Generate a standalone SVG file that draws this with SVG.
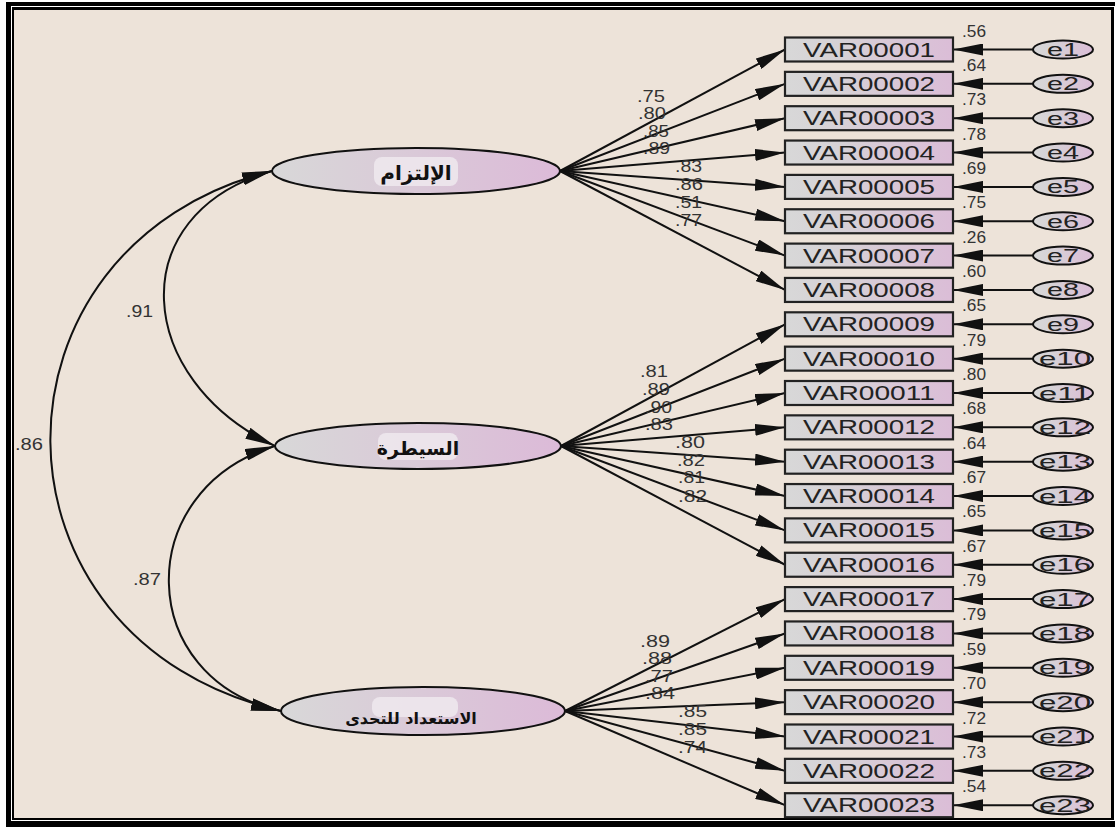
<svg xmlns="http://www.w3.org/2000/svg" width="1115" height="827" viewBox="0 0 1115 827">
<style>
.ln{stroke:#111;stroke-width:2;fill:none}
.box{fill:url(#gb);stroke:#222;stroke-width:2.2}
.lat{fill:url(#gl);stroke:#111;stroke-width:2}
.err{fill:url(#gb);stroke:#111;stroke-width:2}
.vt{font-family:"Liberation Sans",Arial,sans-serif;font-size:20px;fill:#222;text-anchor:middle}
.et{font-family:"Liberation Sans",Arial,sans-serif;font-size:18px;fill:#222;text-anchor:middle}
.num{font-family:"Liberation Sans",Arial,sans-serif;font-size:16px;fill:#333}
.lt{font-family:"DejaVu Sans","Noto Sans",sans-serif;font-weight:bold;fill:#111;text-anchor:middle}
.hl{fill:#efe9ee;opacity:0.85}
</style>
<defs>
<linearGradient id="gb" x1="0" y1="0" x2="1" y2="0"><stop offset="0" stop-color="#d8d8d8"/><stop offset="0.3" stop-color="#d6d2d6"/><stop offset="1" stop-color="#dbbdd7"/></linearGradient>
<linearGradient id="gl" x1="0" y1="0" x2="1" y2="0"><stop offset="0" stop-color="#d8d8d8"/><stop offset="1" stop-color="#dcbad8"/></linearGradient>
<marker id="ah" viewBox="0 0 30 12" refX="30" refY="6" markerWidth="30" markerHeight="12" markerUnits="userSpaceOnUse" orient="auto"><path d="M0,0 L30,6 L0,12 Z" fill="#111"/></marker>
<marker id="ah2" viewBox="0 0 30 12" refX="30" refY="6" markerWidth="30" markerHeight="12" markerUnits="userSpaceOnUse" orient="auto-start-reverse"><path d="M0,0 L30,6 L0,12 Z" fill="#111"/></marker>
</defs>
<g id="frame">
<rect x="0" y="0" width="1115" height="827" fill="#fff"/>
<rect x="6" y="2" width="1109" height="825" fill="#000"/>
<rect x="11" y="6" width="1104" height="815" fill="#fff"/>
<rect x="12" y="7" width="1102" height="813" fill="#000"/>
<rect x="14" y="10" width="1097" height="808" fill="#ede3d9"/>
</g>
<g id="connectors">
<path class="ln" d="M272,171 C120,215 135,380 275,446" marker-start="url(#ah2)" marker-end="url(#ah2)"/>
<path class="ln" d="M272,171 C-25,245 -25,640 281,711" marker-start="url(#ah2)" marker-end="url(#ah2)"/>
<path class="ln" d="M275,446 C130,490 135,680 281,711" marker-start="url(#ah2)" marker-end="url(#ah2)"/>
<g marker-end="url(#ah)">
<line class="ln" x1="560" y1="171" x2="785" y2="49.5"/>
<line class="ln" x1="560" y1="171" x2="785" y2="83.85"/>
<line class="ln" x1="560" y1="171" x2="785" y2="118.2"/>
<line class="ln" x1="560" y1="171" x2="785" y2="152.55"/>
<line class="ln" x1="560" y1="171" x2="785" y2="186.9"/>
<line class="ln" x1="560" y1="171" x2="785" y2="221.25"/>
<line class="ln" x1="560" y1="171" x2="785" y2="255.6"/>
<line class="ln" x1="560" y1="171" x2="785" y2="289.95"/>
<line class="ln" x1="561" y1="446" x2="785" y2="324.3"/>
<line class="ln" x1="561" y1="446" x2="785" y2="358.65"/>
<line class="ln" x1="561" y1="446" x2="785" y2="393"/>
<line class="ln" x1="561" y1="446" x2="785" y2="427.35"/>
<line class="ln" x1="561" y1="446" x2="785" y2="461.7"/>
<line class="ln" x1="561" y1="446" x2="785" y2="496.05"/>
<line class="ln" x1="561" y1="446" x2="785" y2="530.4"/>
<line class="ln" x1="561" y1="446" x2="785" y2="564.75"/>
<line class="ln" x1="565" y1="711" x2="785" y2="599.1"/>
<line class="ln" x1="565" y1="711" x2="785" y2="633.45"/>
<line class="ln" x1="565" y1="711" x2="785" y2="667.8"/>
<line class="ln" x1="565" y1="711" x2="785" y2="702.15"/>
<line class="ln" x1="565" y1="711" x2="785" y2="736.5"/>
<line class="ln" x1="565" y1="711" x2="785" y2="770.85"/>
<line class="ln" x1="565" y1="711" x2="785" y2="805.2"/>
<line class="ln" x1="1033" y1="49.5" x2="953" y2="49.5"/>
<line class="ln" x1="1033" y1="83.85" x2="953" y2="83.85"/>
<line class="ln" x1="1033" y1="118.2" x2="953" y2="118.2"/>
<line class="ln" x1="1033" y1="152.55" x2="953" y2="152.55"/>
<line class="ln" x1="1033" y1="186.9" x2="953" y2="186.9"/>
<line class="ln" x1="1033" y1="221.25" x2="953" y2="221.25"/>
<line class="ln" x1="1033" y1="255.6" x2="953" y2="255.6"/>
<line class="ln" x1="1033" y1="289.95" x2="953" y2="289.95"/>
<line class="ln" x1="1033" y1="324.3" x2="953" y2="324.3"/>
<line class="ln" x1="1033" y1="358.65" x2="953" y2="358.65"/>
<line class="ln" x1="1033" y1="393" x2="953" y2="393"/>
<line class="ln" x1="1033" y1="427.35" x2="953" y2="427.35"/>
<line class="ln" x1="1033" y1="461.7" x2="953" y2="461.7"/>
<line class="ln" x1="1033" y1="496.05" x2="953" y2="496.05"/>
<line class="ln" x1="1033" y1="530.4" x2="953" y2="530.4"/>
<line class="ln" x1="1033" y1="564.75" x2="953" y2="564.75"/>
<line class="ln" x1="1033" y1="599.1" x2="953" y2="599.1"/>
<line class="ln" x1="1033" y1="633.45" x2="953" y2="633.45"/>
<line class="ln" x1="1033" y1="667.8" x2="953" y2="667.8"/>
<line class="ln" x1="1033" y1="702.15" x2="953" y2="702.15"/>
<line class="ln" x1="1033" y1="736.5" x2="953" y2="736.5"/>
<line class="ln" x1="1033" y1="770.85" x2="953" y2="770.85"/>
<line class="ln" x1="1033" y1="805.2" x2="953" y2="805.2"/>
</g>
<g class="num">
<text x="126" y="317" textLength="27" lengthAdjust="spacingAndGlyphs">.91</text>
<text x="15" y="450" textLength="28" lengthAdjust="spacingAndGlyphs">.86</text>
<text x="133" y="585" textLength="28" lengthAdjust="spacingAndGlyphs">.87</text>
<text x="637" y="102" textLength="28" lengthAdjust="spacingAndGlyphs">.75</text>
<text x="638" y="119" textLength="28" lengthAdjust="spacingAndGlyphs">.80</text>
<text x="643" y="137" textLength="26" lengthAdjust="spacingAndGlyphs">.85</text>
<text x="643" y="154" textLength="27" lengthAdjust="spacingAndGlyphs">.89</text>
<text x="675" y="172" textLength="27" lengthAdjust="spacingAndGlyphs">.83</text>
<text x="675" y="190" textLength="28" lengthAdjust="spacingAndGlyphs">.86</text>
<text x="675" y="208" textLength="27" lengthAdjust="spacingAndGlyphs">.51</text>
<text x="675" y="226" textLength="27" lengthAdjust="spacingAndGlyphs">.77</text>
<text x="640" y="377" textLength="28" lengthAdjust="spacingAndGlyphs">.81</text>
<text x="642" y="395" textLength="28" lengthAdjust="spacingAndGlyphs">.89</text>
<text x="645" y="413" textLength="27" lengthAdjust="spacingAndGlyphs">.90</text>
<text x="645" y="430" textLength="28" lengthAdjust="spacingAndGlyphs">.83</text>
<text x="675" y="448" textLength="30" lengthAdjust="spacingAndGlyphs">.80</text>
<text x="677" y="466" textLength="28" lengthAdjust="spacingAndGlyphs">.82</text>
<text x="678" y="483" textLength="27" lengthAdjust="spacingAndGlyphs">.81</text>
<text x="678" y="502" textLength="29" lengthAdjust="spacingAndGlyphs">.82</text>
<text x="640" y="647" textLength="30" lengthAdjust="spacingAndGlyphs">.89</text>
<text x="642" y="664" textLength="30" lengthAdjust="spacingAndGlyphs">.88</text>
<text x="645" y="682" textLength="28" lengthAdjust="spacingAndGlyphs">.77</text>
<text x="645" y="699" textLength="30" lengthAdjust="spacingAndGlyphs">.84</text>
<text x="678" y="717" textLength="29" lengthAdjust="spacingAndGlyphs">.85</text>
<text x="678" y="735" textLength="29" lengthAdjust="spacingAndGlyphs">.85</text>
<text x="678" y="753" textLength="29" lengthAdjust="spacingAndGlyphs">.74</text>
</g>
</g>
<g id="lat1"><ellipse class="lat" cx="416" cy="171" rx="144" ry="23"/><rect class="hl" x="374" y="157" width="84" height="29" rx="8"/><text class="lt" x="416" y="180" font-size="20">الإلتزام</text></g>
<g id="lat2"><ellipse class="lat" cx="418" cy="446" rx="143" ry="23"/><rect class="hl" x="378" y="433" width="80" height="27" rx="8"/><text class="lt" x="418" y="455" font-size="19">السيطرة</text></g>
<g id="lat3"><ellipse class="lat" cx="423" cy="711" rx="142" ry="24"/><rect class="hl" x="372" y="697" width="86" height="20" rx="8"/><text class="lt" x="411" y="724" font-size="16">الاستعداد للتحدى</text></g>
<g class="num" id="r2">
<text x="962" y="36.5" textLength="24" lengthAdjust="spacingAndGlyphs">.56</text>
<text x="962" y="70.85" textLength="24" lengthAdjust="spacingAndGlyphs">.64</text>
<text x="962" y="105.2" textLength="24" lengthAdjust="spacingAndGlyphs">.73</text>
<text x="962" y="139.55" textLength="24" lengthAdjust="spacingAndGlyphs">.78</text>
<text x="962" y="173.9" textLength="24" lengthAdjust="spacingAndGlyphs">.69</text>
<text x="962" y="208.25" textLength="24" lengthAdjust="spacingAndGlyphs">.75</text>
<text x="962" y="242.6" textLength="24" lengthAdjust="spacingAndGlyphs">.26</text>
<text x="962" y="276.95" textLength="24" lengthAdjust="spacingAndGlyphs">.60</text>
<text x="962" y="311.3" textLength="24" lengthAdjust="spacingAndGlyphs">.65</text>
<text x="962" y="345.65" textLength="24" lengthAdjust="spacingAndGlyphs">.79</text>
<text x="962" y="380" textLength="24" lengthAdjust="spacingAndGlyphs">.80</text>
<text x="962" y="414.35" textLength="24" lengthAdjust="spacingAndGlyphs">.68</text>
<text x="962" y="448.7" textLength="24" lengthAdjust="spacingAndGlyphs">.64</text>
<text x="962" y="483.05" textLength="24" lengthAdjust="spacingAndGlyphs">.67</text>
<text x="962" y="517.4" textLength="24" lengthAdjust="spacingAndGlyphs">.65</text>
<text x="962" y="551.75" textLength="24" lengthAdjust="spacingAndGlyphs">.67</text>
<text x="962" y="586.1" textLength="24" lengthAdjust="spacingAndGlyphs">.79</text>
<text x="962" y="620.45" textLength="24" lengthAdjust="spacingAndGlyphs">.79</text>
<text x="962" y="654.8" textLength="24" lengthAdjust="spacingAndGlyphs">.59</text>
<text x="962" y="689.15" textLength="24" lengthAdjust="spacingAndGlyphs">.70</text>
<text x="962" y="723.5" textLength="24" lengthAdjust="spacingAndGlyphs">.72</text>
<text x="962" y="757.85" textLength="24" lengthAdjust="spacingAndGlyphs">.73</text>
<text x="962" y="792.2" textLength="24" lengthAdjust="spacingAndGlyphs">.54</text>
</g>
<g id="v1"><rect class="box" x="785" y="37.5" width="168" height="24"/><text class="vt" x="869" y="56.5" textLength="132" lengthAdjust="spacingAndGlyphs">VAR00001</text></g>
<g id="v2"><rect class="box" x="785" y="71.85" width="168" height="24"/><text class="vt" x="869" y="90.85" textLength="132" lengthAdjust="spacingAndGlyphs">VAR00002</text></g>
<g id="v3"><rect class="box" x="785" y="106.2" width="168" height="24"/><text class="vt" x="869" y="125.2" textLength="132" lengthAdjust="spacingAndGlyphs">VAR00003</text></g>
<g id="v4"><rect class="box" x="785" y="140.55" width="168" height="24"/><text class="vt" x="869" y="159.55" textLength="132" lengthAdjust="spacingAndGlyphs">VAR00004</text></g>
<g id="v5"><rect class="box" x="785" y="174.9" width="168" height="24"/><text class="vt" x="869" y="193.9" textLength="132" lengthAdjust="spacingAndGlyphs">VAR00005</text></g>
<g id="v6"><rect class="box" x="785" y="209.25" width="168" height="24"/><text class="vt" x="869" y="228.25" textLength="132" lengthAdjust="spacingAndGlyphs">VAR00006</text></g>
<g id="v7"><rect class="box" x="785" y="243.6" width="168" height="24"/><text class="vt" x="869" y="262.6" textLength="132" lengthAdjust="spacingAndGlyphs">VAR00007</text></g>
<g id="v8"><rect class="box" x="785" y="277.95" width="168" height="24"/><text class="vt" x="869" y="296.95" textLength="132" lengthAdjust="spacingAndGlyphs">VAR00008</text></g>
<g id="v9"><rect class="box" x="785" y="312.3" width="168" height="24"/><text class="vt" x="869" y="331.3" textLength="132" lengthAdjust="spacingAndGlyphs">VAR00009</text></g>
<g id="v10"><rect class="box" x="785" y="346.65" width="168" height="24"/><text class="vt" x="869" y="365.65" textLength="132" lengthAdjust="spacingAndGlyphs">VAR00010</text></g>
<g id="v11"><rect class="box" x="785" y="381" width="168" height="24"/><text class="vt" x="869" y="400" textLength="132" lengthAdjust="spacingAndGlyphs">VAR00011</text></g>
<g id="v12"><rect class="box" x="785" y="415.35" width="168" height="24"/><text class="vt" x="869" y="434.35" textLength="132" lengthAdjust="spacingAndGlyphs">VAR00012</text></g>
<g id="v13"><rect class="box" x="785" y="449.7" width="168" height="24"/><text class="vt" x="869" y="468.7" textLength="132" lengthAdjust="spacingAndGlyphs">VAR00013</text></g>
<g id="v14"><rect class="box" x="785" y="484.05" width="168" height="24"/><text class="vt" x="869" y="503.05" textLength="132" lengthAdjust="spacingAndGlyphs">VAR00014</text></g>
<g id="v15"><rect class="box" x="785" y="518.4" width="168" height="24"/><text class="vt" x="869" y="537.4" textLength="132" lengthAdjust="spacingAndGlyphs">VAR00015</text></g>
<g id="v16"><rect class="box" x="785" y="552.75" width="168" height="24"/><text class="vt" x="869" y="571.75" textLength="132" lengthAdjust="spacingAndGlyphs">VAR00016</text></g>
<g id="v17"><rect class="box" x="785" y="587.1" width="168" height="24"/><text class="vt" x="869" y="606.1" textLength="132" lengthAdjust="spacingAndGlyphs">VAR00017</text></g>
<g id="v18"><rect class="box" x="785" y="621.45" width="168" height="24"/><text class="vt" x="869" y="640.45" textLength="132" lengthAdjust="spacingAndGlyphs">VAR00018</text></g>
<g id="v19"><rect class="box" x="785" y="655.8" width="168" height="24"/><text class="vt" x="869" y="674.8" textLength="132" lengthAdjust="spacingAndGlyphs">VAR00019</text></g>
<g id="v20"><rect class="box" x="785" y="690.15" width="168" height="24"/><text class="vt" x="869" y="709.15" textLength="132" lengthAdjust="spacingAndGlyphs">VAR00020</text></g>
<g id="v21"><rect class="box" x="785" y="724.5" width="168" height="24"/><text class="vt" x="869" y="743.5" textLength="132" lengthAdjust="spacingAndGlyphs">VAR00021</text></g>
<g id="v22"><rect class="box" x="785" y="758.85" width="168" height="24"/><text class="vt" x="869" y="777.85" textLength="132" lengthAdjust="spacingAndGlyphs">VAR00022</text></g>
<g id="v23"><rect class="box" x="785" y="793.2" width="168" height="24"/><text class="vt" x="869" y="812.2" textLength="132" lengthAdjust="spacingAndGlyphs">VAR00023</text></g>
<g id="e1"><ellipse class="err" cx="1063" cy="49.5" rx="30" ry="9"/><text class="et" x="1063" y="56" textLength="32" lengthAdjust="spacingAndGlyphs">e1</text></g>
<g id="e2"><ellipse class="err" cx="1063" cy="83.85" rx="30" ry="9"/><text class="et" x="1063" y="90.35" textLength="32" lengthAdjust="spacingAndGlyphs">e2</text></g>
<g id="e3"><ellipse class="err" cx="1063" cy="118.2" rx="30" ry="9"/><text class="et" x="1063" y="124.7" textLength="32" lengthAdjust="spacingAndGlyphs">e3</text></g>
<g id="e4"><ellipse class="err" cx="1063" cy="152.55" rx="30" ry="9"/><text class="et" x="1063" y="159.05" textLength="32" lengthAdjust="spacingAndGlyphs">e4</text></g>
<g id="e5"><ellipse class="err" cx="1063" cy="186.9" rx="30" ry="9"/><text class="et" x="1063" y="193.4" textLength="32" lengthAdjust="spacingAndGlyphs">e5</text></g>
<g id="e6"><ellipse class="err" cx="1063" cy="221.25" rx="30" ry="9"/><text class="et" x="1063" y="227.75" textLength="32" lengthAdjust="spacingAndGlyphs">e6</text></g>
<g id="e7"><ellipse class="err" cx="1063" cy="255.6" rx="30" ry="9"/><text class="et" x="1063" y="262.1" textLength="32" lengthAdjust="spacingAndGlyphs">e7</text></g>
<g id="e8"><ellipse class="err" cx="1063" cy="289.95" rx="30" ry="9"/><text class="et" x="1063" y="296.45" textLength="32" lengthAdjust="spacingAndGlyphs">e8</text></g>
<g id="e9"><ellipse class="err" cx="1063" cy="324.3" rx="30" ry="9"/><text class="et" x="1063" y="330.8" textLength="32" lengthAdjust="spacingAndGlyphs">e9</text></g>
<g id="e10"><ellipse class="err" cx="1063" cy="358.65" rx="30" ry="9"/><text class="et" x="1065" y="365.15" textLength="52" lengthAdjust="spacingAndGlyphs">e10</text></g>
<g id="e11"><ellipse class="err" cx="1063" cy="393" rx="30" ry="9"/><text class="et" x="1065" y="399.5" textLength="52" lengthAdjust="spacingAndGlyphs">e11</text></g>
<g id="e12"><ellipse class="err" cx="1063" cy="427.35" rx="30" ry="9"/><text class="et" x="1065" y="433.85" textLength="52" lengthAdjust="spacingAndGlyphs">e12</text></g>
<g id="e13"><ellipse class="err" cx="1063" cy="461.7" rx="30" ry="9"/><text class="et" x="1065" y="468.2" textLength="52" lengthAdjust="spacingAndGlyphs">e13</text></g>
<g id="e14"><ellipse class="err" cx="1063" cy="496.05" rx="30" ry="9"/><text class="et" x="1065" y="502.55" textLength="52" lengthAdjust="spacingAndGlyphs">e14</text></g>
<g id="e15"><ellipse class="err" cx="1063" cy="530.4" rx="30" ry="9"/><text class="et" x="1065" y="536.9" textLength="52" lengthAdjust="spacingAndGlyphs">e15</text></g>
<g id="e16"><ellipse class="err" cx="1063" cy="564.75" rx="30" ry="9"/><text class="et" x="1065" y="571.25" textLength="52" lengthAdjust="spacingAndGlyphs">e16</text></g>
<g id="e17"><ellipse class="err" cx="1063" cy="599.1" rx="30" ry="9"/><text class="et" x="1065" y="605.6" textLength="52" lengthAdjust="spacingAndGlyphs">e17</text></g>
<g id="e18"><ellipse class="err" cx="1063" cy="633.45" rx="30" ry="9"/><text class="et" x="1065" y="639.95" textLength="52" lengthAdjust="spacingAndGlyphs">e18</text></g>
<g id="e19"><ellipse class="err" cx="1063" cy="667.8" rx="30" ry="9"/><text class="et" x="1065" y="674.3" textLength="52" lengthAdjust="spacingAndGlyphs">e19</text></g>
<g id="e20"><ellipse class="err" cx="1063" cy="702.15" rx="30" ry="9"/><text class="et" x="1065" y="708.65" textLength="52" lengthAdjust="spacingAndGlyphs">e20</text></g>
<g id="e21"><ellipse class="err" cx="1063" cy="736.5" rx="30" ry="9"/><text class="et" x="1065" y="743" textLength="52" lengthAdjust="spacingAndGlyphs">e21</text></g>
<g id="e22"><ellipse class="err" cx="1063" cy="770.85" rx="30" ry="9"/><text class="et" x="1065" y="777.35" textLength="52" lengthAdjust="spacingAndGlyphs">e22</text></g>
<g id="e23"><ellipse class="err" cx="1063" cy="805.2" rx="30" ry="9"/><text class="et" x="1065" y="811.7" textLength="52" lengthAdjust="spacingAndGlyphs">e23</text></g>
</svg>
